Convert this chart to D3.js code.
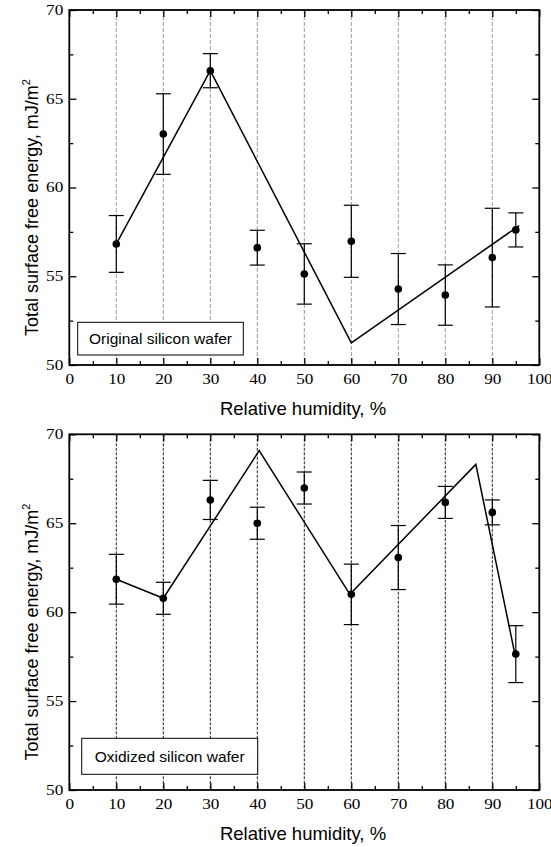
<!DOCTYPE html>
<html><head><meta charset="utf-8">
<script src="https://cdn.jsdelivr.net/npm/d3@7"></script>
<style>body{margin:0;background:#fff}svg{display:block}</style>
</head><body>
<script>
const humidity = [10, 20, 30, 40, 50, 60, 70, 80, 90, 95];
const originalEnergy = [56.82, 63.01, 66.58, 56.61, 55.13, 56.97, 54.28, 53.94, 56.05, 57.61];
const originalError = [1.6, 2.27, 0.96, 0.98, 1.7, 2.03, 2.0, 1.7, 2.78, 0.96];
const originalFitX = [10, 30, 60, 95.7];
const originalFitY = [56.82, 66.58, 51.25, 57.85];
const oxidizedEnergy = [61.85, 60.78, 66.31, 65.0, 66.98, 61.0, 63.07, 66.17, 65.61, 57.64];
const oxidizedError = [1.4, 0.9, 1.1, 0.9, 0.9, 1.7, 1.8, 0.9, 0.7, 1.6];
const oxidizedFitX = [10, 20, 40.4, 59.7, 86.5, 94.8];
const oxidizedFitY = [61.85, 60.78, 69.08, 61.0, 68.31, 57.64];
const xTickLabels = [0, 10, 20, 30, 40, 50, 60, 70, 80, 90, 100];
const yTickLabels = [50, 55, 60, 65, 70];
const gridX = [10, 20, 30, 40, 50, 60, 70, 80, 90];
const xTitle = "Relative humidity, %";
const panelLabels = ["Original silicon wafer", "Oxidized silicon wafer"];

const W = 551, H = 847;
const svg = d3.select("body").append("svg").attr("width", W).attr("height", H);
const serif = "'Liberation Serif','Times New Roman',serif";
const sans = "'Liberation Sans',Arial,sans-serif";

function panel(opt) {
  const left = 69.3, right = 539.3, top = opt.top, bottom = opt.bottom;
  const x = d3.scaleLinear().domain([0, 100]).range([left, right]);
  const y = d3.scaleLinear().domain([50, 70]).range([bottom, top]);
  const g = svg.append("g");

  // grid lines
  g.selectAll(".grid").data(gridX).enter().append("line")
    .attr("x1", d => x(d)).attr("x2", d => x(d))
    .attr("y1", top).attr("y2", bottom)
    .attr("stroke", opt.gridColor).attr("stroke-width", 1)
    .attr("stroke-dasharray", opt.gridDash);

  // axes with inward ticks
  const minorX = d3.range(5, 100, 10);
  const minorY = [52.5, 57.5, 62.5, 67.5];
  const axB = d3.axisBottom(x).tickValues(xTickLabels).tickSize(-7).tickPadding(9).tickFormat(d3.format("d"));
  const axT = d3.axisTop(x).tickValues(xTickLabels).tickSize(-7).tickFormat("");
  const axL = d3.axisLeft(y).tickValues(yTickLabels).tickSize(-7).tickPadding(6).tickFormat(d3.format("d"));
  const axR = d3.axisRight(y).tickValues(yTickLabels).tickSize(-7).tickFormat("");
  const style = sel => {
    sel.select(".domain").remove();
    sel.selectAll("line").attr("stroke", "#000").attr("stroke-width", 1.3);
    sel.selectAll("text").attr("font-family", serif).attr("font-size", 14).attr("fill", "#000")
      .attr("lengthAdjust", "spacingAndGlyphs")
      .attr("textLength", function () { return this.textContent.length * 8.6; });
  };
  g.append("g").attr("transform", `translate(0,${bottom})`).call(axB).call(style);
  g.append("g").attr("transform", `translate(0,${top})`).call(axT).call(style);
  g.append("g").attr("transform", `translate(${left},0)`).call(axL).call(style);
  g.append("g").attr("transform", `translate(${right},0)`).call(axR).call(style);
  // minor ticks
  const mB = d3.axisBottom(x).tickValues(minorX).tickSize(-4).tickFormat("");
  const mT = d3.axisTop(x).tickValues(minorX).tickSize(-4).tickFormat("");
  const mL = d3.axisLeft(y).tickValues(minorY).tickSize(-4).tickFormat("");
  const mR = d3.axisRight(y).tickValues(minorY).tickSize(-4).tickFormat("");
  g.append("g").attr("transform", `translate(0,${bottom})`).call(mB).call(style);
  g.append("g").attr("transform", `translate(0,${top})`).call(mT).call(style);
  g.append("g").attr("transform", `translate(${left},0)`).call(mL).call(style);
  g.append("g").attr("transform", `translate(${right},0)`).call(mR).call(style);

  // frame
  g.append("rect").attr("x", left).attr("y", top).attr("width", right - left).attr("height", bottom - top)
    .attr("fill", "none").attr("stroke", "#000").attr("stroke-width", 1.8);

  // fit line
  const fit = opt.fitX.map((v, i) => [v, opt.fitY[i]]);
  g.append("path").datum(fit)
    .attr("d", d3.line().x(d => x(d[0])).y(d => y(d[1])))
    .attr("fill", "none").attr("stroke", "#000").attr("stroke-width", 1.5);

  // error bars
  const pts = humidity.map((h, i) => ({ h, v: opt.values[i], e: opt.errors[i] }));
  const eb = g.selectAll(".eb").data(pts).enter().append("g");
  eb.append("line").attr("x1", d => x(d.h)).attr("x2", d => x(d.h))
    .attr("y1", d => y(d.v + d.e)).attr("y2", d => y(d.v - d.e))
    .attr("stroke", "#000").attr("stroke-width", 1.2);
  eb.append("line").attr("x1", d => x(d.h) - 7.5).attr("x2", d => x(d.h) + 7.5)
    .attr("y1", d => y(d.v + d.e)).attr("y2", d => y(d.v + d.e))
    .attr("stroke", "#000").attr("stroke-width", 1.2);
  eb.append("line").attr("x1", d => x(d.h) - 7.5).attr("x2", d => x(d.h) + 7.5)
    .attr("y1", d => y(d.v - d.e)).attr("y2", d => y(d.v - d.e))
    .attr("stroke", "#000").attr("stroke-width", 1.2);
  g.selectAll(".pt").data(pts).enter().append("circle")
    .attr("cx", d => x(d.h)).attr("cy", d => y(d.v)).attr("r", 3.8).attr("fill", "#000");

  // label box
  const lb = opt.labelBox;
  g.append("rect").attr("x", lb[0]).attr("y", lb[1]).attr("width", lb[2]).attr("height", lb[3])
    .attr("fill", "#fff").attr("stroke", "#000").attr("stroke-width", 1);
  g.append("text").attr("x", lb[0] + lb[2] / 2).attr("y", lb[1] + lb[3] / 2 + 5.5)
    .attr("text-anchor", "middle").attr("font-family", sans).attr("font-size", 15.5)
    .text(opt.label);

  // axis titles
  g.append("text").attr("x", 303).attr("y", bottom + 50)
    .attr("text-anchor", "middle").attr("font-family", sans).attr("font-size", 18.5)
    .text(xTitle);
  const yt = g.append("text").attr("transform", `translate(38,${(top + bottom) / 2 + 20}) rotate(-90)`)
    .attr("text-anchor", "middle").attr("font-family", sans).attr("font-size", 18);
  yt.append("tspan").text("Total surface free energy, mJ/m");
  yt.append("tspan").attr("dy", -8).attr("font-size", 11).text("2");
}

panel({ top: 10, bottom: 365, values: originalEnergy, errors: originalError,
  fitX: originalFitX, fitY: originalFitY, gridColor: "#999", gridDash: "4,2",
  label: panelLabels[0], labelBox: [77.7, 322.3, 165.6, 32.7] });
panel({ top: 434.3, bottom: 790, values: oxidizedEnergy, errors: oxidizedError,
  fitX: oxidizedFitX, fitY: oxidizedFitY, gridColor: "#222", gridDash: "3,1.5",
  label: panelLabels[1], labelBox: [81.7, 738.3, 176, 36] });
</script>
</body></html>
